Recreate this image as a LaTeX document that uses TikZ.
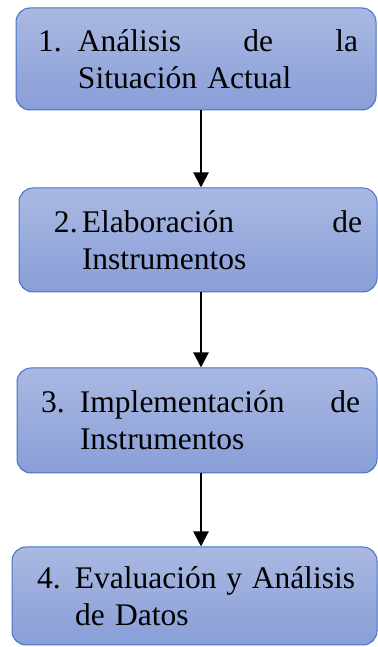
\documentclass[tikz,border=0pt]{standalone}
\usepackage{fontspec}
\setmainfont{Liberation Serif}
\usetikzlibrary{arrows.meta}
\definecolor{bordeazul}{RGB}{68,114,196}
\definecolor{azulclaro}{RGB}{170,185,226}
\definecolor{azuloscuro}{RGB}{137,158,216}
\def\ancholinea{280pt}
% left margin, label width, number, first line, second line
\newcommand{\paso}[5]{\hspace*{#1pt}\makebox[#2pt][l]{#3.}\makebox[\ancholinea][l]{#4}\\\hspace*{\dimexpr#1pt+#2pt\relax}#5}

\begin{document}
\begin{tikzpicture}[x=1pt,y=1pt,>={Triangle[width=15pt,length=15pt]}]
    \tikzstyle{etapa}=[draw=bordeazul,line width=1pt,rounded corners=14pt,top color=azulclaro,bottom color=azuloscuro,inner xsep=0pt,align=left,font=\fontsize{31.5}{37}\selectfont]
    \tikzstyle{flecha}=[->,line width=2pt]

    \useasboundingbox (0,0) rectangle (377,647);

    % Draw the steps
    \node[etapa,text width=360pt,minimum height=102pt] (E-1) at (196,588)
        {\paso{22}{40}{1}{Análisis\hfill de\hfill la}{Situación Actual}};
    \node[etapa,text width=358pt,minimum height=104pt] (E-2) at (198,407)
        {\paso{35}{28}{2}{Elaboración\hfill de}{Instrumentos}};
    \node[etapa,text width=360pt,minimum height=105pt] (E-3) at (197,226.5)
        {\paso{24}{39}{3}{Implementación\hfill de}{Instrumentos}};
    \node[etapa,text width=365pt,minimum height=98pt] (E-4) at (194.5,51)
        {\paso{25}{38}{4}{Evaluación\hfill y\hfill Análisis}{de Datos}};

    % Connect each step with the next one
    \coordinate (eje) at (201,0);
    \foreach \source/\dest in {1/2,2/3,3/4}
        \draw[flecha] (E-\source.south -| eje) -- (E-\dest.north -| eje);
\end{tikzpicture}
\end{document}
